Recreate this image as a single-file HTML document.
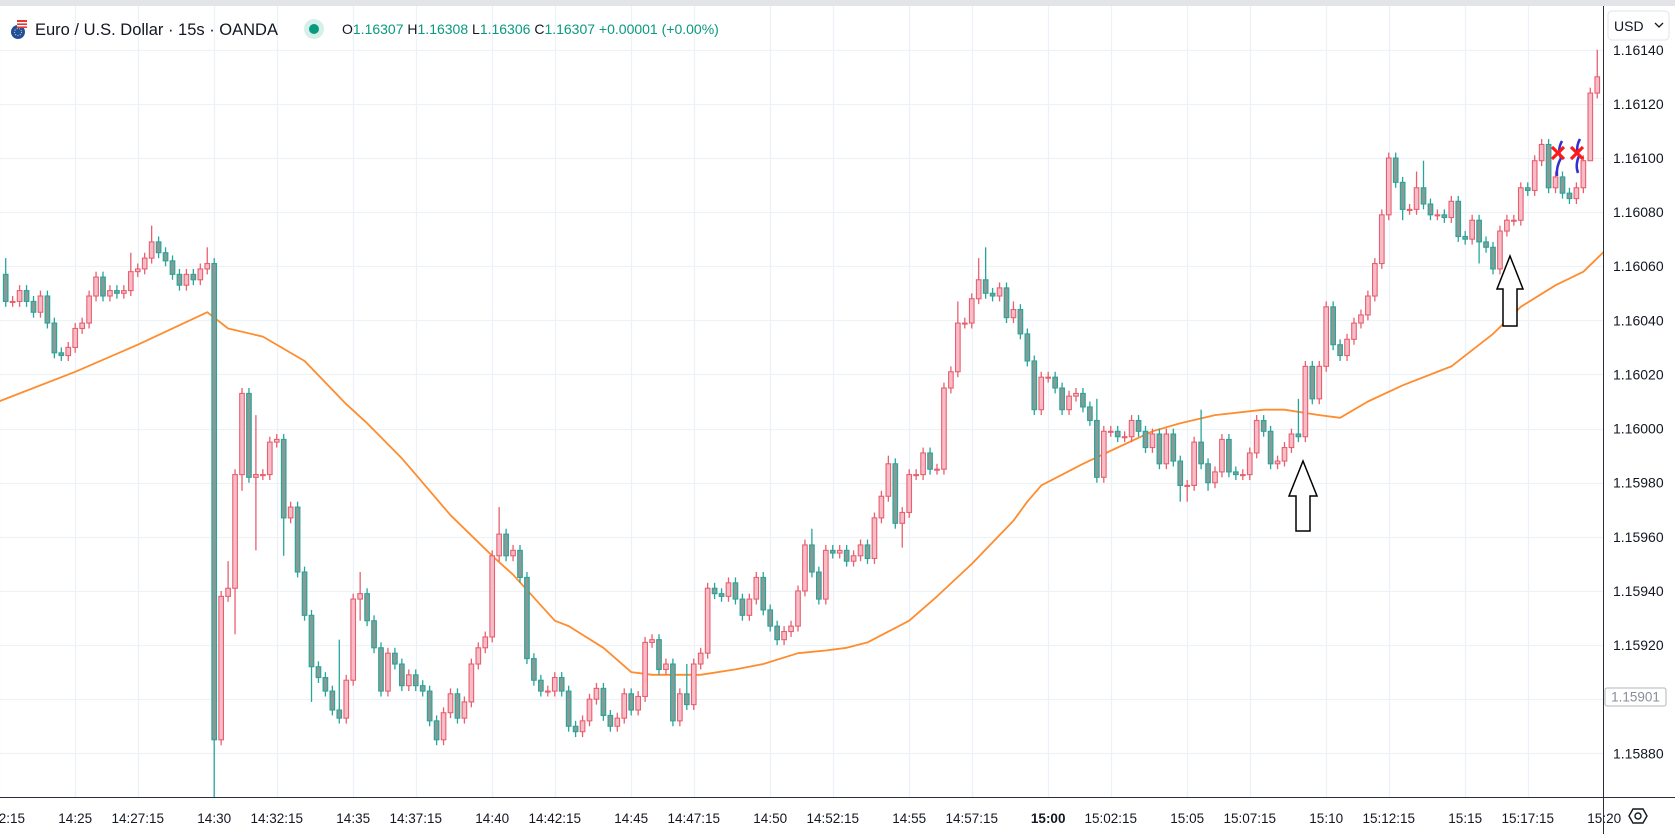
<!DOCTYPE html>
<html><head><meta charset="utf-8"><title>EURUSD 15s</title>
<style>
html,body{margin:0;padding:0;background:#fff;}
body{width:1675px;height:834px;overflow:hidden;font-family:"Liberation Sans",sans-serif;}
svg text{font-family:"Liberation Sans",sans-serif;}
</style></head>
<body>
<svg id="chart" xmlns="http://www.w3.org/2000/svg" width="1675" height="834" viewBox="0 0 1675 834">
  <rect x="0" y="0" width="1675" height="834" fill="#ffffff"/>
  <g id="grid"></g>
  <g id="pane">
    <path id="ma" fill="none" stroke="#ff8c2e" stroke-width="1.8" stroke-linejoin="round"/>
    <g id="candles"></g>
  </g>
  <g>
    <path d="M1303 461 L1317 496 L1310 496 L1310 531 L1296 531 L1296 496 L1289 496 Z" fill="#fff" stroke="#000" stroke-width="1.5"/>
    <path d="M1510 256 L1523 289 L1517 289 L1517 326 L1503 326 L1503 289 L1497 289 Z" fill="#fff" stroke="#000" stroke-width="1.5"/>
    <path d="M1562 141 Q1557 150 1561 158 Q1556 167 1557 176" fill="none" stroke="#3030d0" stroke-width="2.5"/>
    <path d="M1580 139 Q1575 148 1579 156 Q1575 165 1578 173" fill="none" stroke="#3030d0" stroke-width="2.5"/>
    <path d="M1552 147 L1564 159 M1564 147 L1552 159" stroke="#ff1a1a" stroke-width="3.2"/>
    <path d="M1571 147 L1583 159 M1583 147 L1571 159" stroke="#ff1a1a" stroke-width="3.2"/>
  </g>
  <rect x="1604" y="0" width="71" height="834" fill="#fff"/>
  <rect x="0" y="798" width="1675" height="36" fill="#fff"/>
  <g id="yaxis"></g>
  <g id="xaxis"></g>
  <line x1="1603.5" y1="0" x2="1603.5" y2="834" stroke="#2a2e39" stroke-width="1"/>
  <line x1="0" y1="797.5" x2="1675" y2="797.5" stroke="#2a2e39" stroke-width="1"/>
  <rect x="0" y="0" width="1675" height="6" fill="#e3e4e8"/>
  <g>
    <rect x="1605" y="688" width="61" height="18" fill="#fff" stroke="#b2b5be" stroke-width="1" rx="2"/>
    <text x="1635.5" y="701.5" font-size="13.5" fill="#8a8e99" text-anchor="middle">1.15901</text>
  </g>
  <g>
    <rect x="1608" y="11" width="61" height="29" rx="4" fill="#fff" stroke="#e0e3eb"/>
    <text x="1614" y="31" font-size="14" fill="#131722">USD</text>
    <path d="M1655 23 L1659 27 L1663 23" fill="none" stroke="#131722" stroke-width="1.3"/>
  </g>
  <g>
    <path d="M1629 816 L1633 809 L1643 809 L1647 816 L1643 823 L1633 823 Z" fill="none" stroke="#131722" stroke-width="1.4"/>
    <circle cx="1638" cy="816" r="3" fill="none" stroke="#131722" stroke-width="1.4"/>
  </g>
  <g>
    <g>
      <circle cx="18" cy="32" r="7" fill="#1e4fa0"/>
      <rect x="17" y="20" width="10" height="8" fill="#e53935"/>
      <rect x="17" y="22" width="10" height="1.4" fill="#fff"/>
      <rect x="17" y="25" width="10" height="1.4" fill="#fff"/>
      <circle cx="18" cy="32" r="3.5" fill="none" stroke="#ffd54f" stroke-width="1" stroke-dasharray="1 1.5"/>
    </g>
    <text x="35" y="35" font-size="16.5" fill="#131722">Euro / U.S. Dollar · 15s · OANDA</text>
    <circle cx="314" cy="29" r="10" fill="#d7efe9"/>
    <circle cx="314" cy="29" r="5" fill="#089981"/>
    <text x="342" y="34" font-size="14" fill="#089981"><tspan fill="#131722">O</tspan>1.16307 <tspan fill="#131722">H</tspan>1.16308 <tspan fill="#131722">L</tspan>1.16306 <tspan fill="#131722">C</tspan>1.16307 +0.00001 (+0.00%)</text>
  </g>
</svg>
<script>
// prices in pips above 1.15800 (200 = 1.16000)
const firstOpen = 257;
const closes = [
247,247,251,247,243,249,239,228,227,230,
237,239,249,256,249,251,250,251,258,259,
263,269,265,262,257,253,257,255,259,261,
85,138,141,183,213,182,183,183,195,196,
167,171,147,131,112,108,103,96,93,107,
137,139,129,119,103,117,113,105,109,105,
103,92,85,95,102,93,99,113,119,123,
153,161,153,155,145,115,107,103,103,108,
103,90,88,92,100,104,94,90,93,102,
96,101,121,122,111,113,92,102,98,113,
117,141,139,138,143,137,131,137,145,133,
127,122,125,127,140,157,147,137,155,154,
155,151,153,157,152,167,175,187,165,169,
183,183,191,185,185,215,221,239,239,248,
255,250,249,252,241,244,235,225,207,219,
219,215,207,212,213,208,203,182,199,199,
197,197,203,199,193,198,187,198,188,179,
179,195,187,180,184,196,184,183,183,191,
203,199,187,188,193,198,197,223,211,223,
245,231,227,233,239,242,249,261,279,300,
291,281,281,289,283,279,279,278,284,271,
270,277,269,267,259,273,277,277,289,288,
299,305,289,293,287,285,289,299,324,330
];
const highIdx = [0,18,21,29,32,36,48,51,71,98,116,127,137,140,141,145,157,172,186,199,203,204,209,229];
const highVal = [263,265,275,267,151,205,122,147,171,113,163,190,247,263,267,247,211,207,211,302,295,299,286,340];
const lowIdx = [30,33,34,36,40,44,51,129,169,170,173,201,212,228];
const lowVal = [62,124,177,155,153,99,129,156,173,173,177,277,261,322];
const maIdx = [-1,10,19,29,32,37,43,49,52,57,59,64,70,73,79,81,86,90,93,100,105,109,114,118,121,124,130,134,139,145,147,149,155,160,165,169,174,181,184,189,192,196,201,208,214,218,223,227,231];
const maVal = [210,221,231,243,237,234,225,209,202,189,183,168,153,146,129,127,119,110,109,109,111,113,117,118,119,121,129,138,150,166,173,179,187,193,199,202,205,207,207,205,204,210,216,223,235,245,253,258,268];
const priceTicks = [1.16140,1.16120,1.16100,1.16080,1.16060,1.16040,1.16020,1.16000,1.15980,1.15960,1.15940,1.15920,1.15900,1.15880];
const timeIdx = [-1,10,19,30,39,50,59,70,79,90,99,110,119,130,139,150,159,170,179,190,199,210,219,230];
const timeLabels = ["14:22:15","14:25","14:27:15","14:30","14:32:15","14:35","14:37:15","14:40","14:42:15","14:45","14:47:15","14:50","14:52:15","14:55","14:57:15","15:00","15:02:15","15:05","15:07:15","15:10","15:12:15","15:15","15:17:15","15:20"];

const NS = "http://www.w3.org/2000/svg";
const X0 = 5.7, STEP = 6.95;
function xOf(i){ return X0 + i*STEP; }
function yOf(v){ return 428.6 - (v-200)*2.706; }
function yOfPrice(p){ return yOf((p-1.158)*100000); }
function mk(tag, attrs, parent){ const e=document.createElementNS(NS,tag); for(const k in attrs) e.setAttribute(k,attrs[k]); parent.appendChild(e); return e; }

const grid = document.getElementById('grid');
priceTicks.forEach(p=>{
  const y = Math.round(yOfPrice(p))+0.5;
  const l = mk('line',{x1:0,x2:1603,y1:y,y2:y,stroke:'#eef1f6','stroke-width':1.3},grid);
  
  
});
timeIdx.forEach(i=>{
  const x = Math.round(xOf(i))+0.5;
  const l = mk('line',{x1:x,x2:x,y1:6,y2:797,stroke:'#eef1f6','stroke-width':1.3},grid);
  
  
});

const yaxis = document.getElementById('yaxis');
priceTicks.forEach(p=>{
  const t = mk('text',{x:1613,y:yOfPrice(p)+5,'font-size':14,fill:'#131722'},yaxis);
  t.textContent = p.toFixed(5);
  
  
});
const xaxis = document.getElementById('xaxis');
timeIdx.forEach((i,k)=>{
  const t = mk('text',{x:xOf(i),y:823,'font-size':13.5,fill:'#131722','text-anchor':'middle'},xaxis);
  if(timeLabels[k]==="15:00") t.setAttribute('font-weight','bold');
  t.textContent = timeLabels[k];
  
  
});

const cg = document.getElementById('candles');
closes.forEach((c,i)=>{
  const o = i===0 ? firstOpen : closes[i-1];
  const up = c >= o;
  let hi = Math.max(o,c)+2, lo = Math.min(o,c)-2;
  const hk = highIdx.indexOf(i); if(hk>=0) hi = highVal[hk];
  const lk = lowIdx.indexOf(i); if(lk>=0) lo = lowVal[lk];
  const x = xOf(i);
  const g = mk('g',{},cg);
  
  
  const stroke = up ? '#e8606f' : '#26a69a';
  const fill = up ? '#f8bcc8' : '#869a96';
  mk('line',{x1:x,x2:x,y1:yOf(hi),y2:yOf(lo),stroke:stroke,'stroke-width':1.3},g);
  const yt = yOf(Math.max(o,c)), yb = yOf(Math.min(o,c));
  mk('rect',{x:x-2.3,y:yt,width:4.6,height:Math.max(yb-yt,1),fill:fill,stroke:stroke,'stroke-width':1.1},g);
});

let d = '';
maIdx.forEach((i,k)=>{ d += (k?' L':'M') + xOf(i).toFixed(1) + ' ' + yOf(maVal[k]).toFixed(1); });
document.getElementById('ma').setAttribute('d', d);
</script>
</body></html>
